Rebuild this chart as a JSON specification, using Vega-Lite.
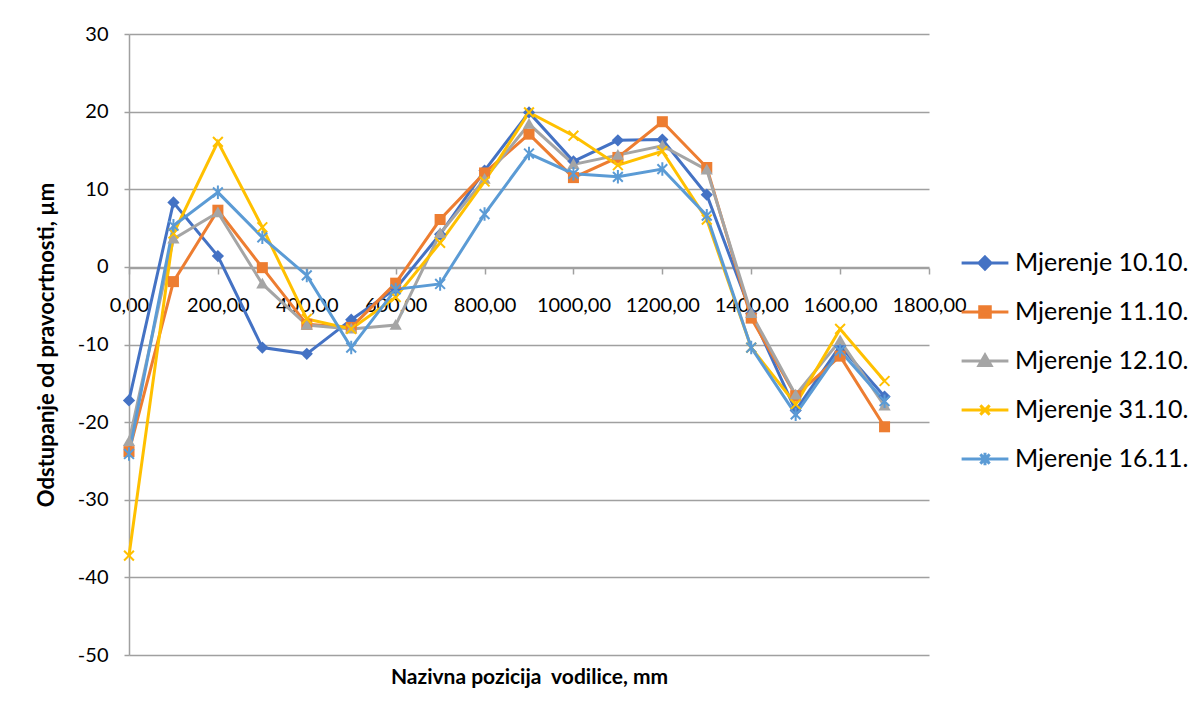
{
  "$schema": "https://vega.github.io/schema/vega-lite/v6.json",
  "width": 800,
  "height": 621,
  "autosize": {"type": "none"},
  "padding": {"left": 129, "top": 34, "right": 272, "bottom": 47},
  "background": "white",
  "config": {"view": {"stroke": null}, "font": "Lato"},
  "data": {
    "values": [
      {"x": 0, "v": -17.2, "s": "Mjerenje 10.10."}, {"x": 100, "v": 8.3, "s": "Mjerenje 10.10."}, {"x": 200, "v": 1.4, "s": "Mjerenje 10.10."}, {"x": 300, "v": -10.4, "s": "Mjerenje 10.10."}, {"x": 400, "v": -11.2, "s": "Mjerenje 10.10."}, {"x": 500, "v": -6.8, "s": "Mjerenje 10.10."}, {"x": 600, "v": -2.8, "s": "Mjerenje 10.10."}, {"x": 700, "v": 4.2, "s": "Mjerenje 10.10."}, {"x": 800, "v": 12.4, "s": "Mjerenje 10.10."}, {"x": 900, "v": 19.9, "s": "Mjerenje 10.10."}, {"x": 1000, "v": 13.6, "s": "Mjerenje 10.10."}, {"x": 1100, "v": 16.3, "s": "Mjerenje 10.10."}, {"x": 1200, "v": 16.4, "s": "Mjerenje 10.10."}, {"x": 1300, "v": 9.3, "s": "Mjerenje 10.10."}, {"x": 1400, "v": -6.0, "s": "Mjerenje 10.10."}, {"x": 1500, "v": -18.5, "s": "Mjerenje 10.10."}, {"x": 1600, "v": -10.2, "s": "Mjerenje 10.10."}, {"x": 1700, "v": -16.7, "s": "Mjerenje 10.10."},
      {"x": 0, "v": -23.8, "s": "Mjerenje 11.10."}, {"x": 100, "v": -1.9, "s": "Mjerenje 11.10."}, {"x": 200, "v": 7.3, "s": "Mjerenje 11.10."}, {"x": 300, "v": -0.1, "s": "Mjerenje 11.10."}, {"x": 400, "v": -7.4, "s": "Mjerenje 11.10."}, {"x": 500, "v": -7.8, "s": "Mjerenje 11.10."}, {"x": 600, "v": -2.1, "s": "Mjerenje 11.10."}, {"x": 700, "v": 6.1, "s": "Mjerenje 11.10."}, {"x": 800, "v": 12.1, "s": "Mjerenje 11.10."}, {"x": 900, "v": 17.1, "s": "Mjerenje 11.10."}, {"x": 1000, "v": 11.5, "s": "Mjerenje 11.10."}, {"x": 1100, "v": 14.1, "s": "Mjerenje 11.10."}, {"x": 1200, "v": 18.7, "s": "Mjerenje 11.10."}, {"x": 1300, "v": 12.8, "s": "Mjerenje 11.10."}, {"x": 1400, "v": -6.6, "s": "Mjerenje 11.10."}, {"x": 1500, "v": -16.6, "s": "Mjerenje 11.10."}, {"x": 1600, "v": -11.5, "s": "Mjerenje 11.10."}, {"x": 1700, "v": -20.6, "s": "Mjerenje 11.10."},
      {"x": 0, "v": -22.5, "s": "Mjerenje 12.10."}, {"x": 100, "v": 3.6, "s": "Mjerenje 12.10."}, {"x": 200, "v": 7.0, "s": "Mjerenje 12.10."}, {"x": 300, "v": -2.2, "s": "Mjerenje 12.10."}, {"x": 400, "v": -7.5, "s": "Mjerenje 12.10."}, {"x": 500, "v": -8.0, "s": "Mjerenje 12.10."}, {"x": 600, "v": -7.5, "s": "Mjerenje 12.10."}, {"x": 700, "v": 4.3, "s": "Mjerenje 12.10."}, {"x": 800, "v": 11.3, "s": "Mjerenje 12.10."}, {"x": 900, "v": 18.4, "s": "Mjerenje 12.10."}, {"x": 1000, "v": 13.2, "s": "Mjerenje 12.10."}, {"x": 1100, "v": 14.4, "s": "Mjerenje 12.10."}, {"x": 1200, "v": 15.6, "s": "Mjerenje 12.10."}, {"x": 1300, "v": 12.5, "s": "Mjerenje 12.10."}, {"x": 1400, "v": -6.0, "s": "Mjerenje 12.10."}, {"x": 1500, "v": -16.5, "s": "Mjerenje 12.10."}, {"x": 1600, "v": -9.5, "s": "Mjerenje 12.10."}, {"x": 1700, "v": -17.9, "s": "Mjerenje 12.10."},
      {"x": 0, "v": -37.2, "s": "Mjerenje 31.10."}, {"x": 100, "v": 4.3, "s": "Mjerenje 31.10."}, {"x": 200, "v": 16.1, "s": "Mjerenje 31.10."}, {"x": 300, "v": 5.1, "s": "Mjerenje 31.10."}, {"x": 400, "v": -6.7, "s": "Mjerenje 31.10."}, {"x": 500, "v": -8.0, "s": "Mjerenje 31.10."}, {"x": 600, "v": -3.9, "s": "Mjerenje 31.10."}, {"x": 700, "v": 3.1, "s": "Mjerenje 31.10."}, {"x": 800, "v": 11.0, "s": "Mjerenje 31.10."}, {"x": 900, "v": 19.9, "s": "Mjerenje 31.10."}, {"x": 1000, "v": 16.9, "s": "Mjerenje 31.10."}, {"x": 1100, "v": 13.1, "s": "Mjerenje 31.10."}, {"x": 1200, "v": 14.9, "s": "Mjerenje 31.10."}, {"x": 1300, "v": 6.1, "s": "Mjerenje 31.10."}, {"x": 1400, "v": -10.4, "s": "Mjerenje 31.10."}, {"x": 1500, "v": -17.7, "s": "Mjerenje 31.10."}, {"x": 1600, "v": -8.0, "s": "Mjerenje 31.10."}, {"x": 1700, "v": -14.7, "s": "Mjerenje 31.10."},
      {"x": 0, "v": -24.1, "s": "Mjerenje 16.11."}, {"x": 100, "v": 5.3, "s": "Mjerenje 16.11."}, {"x": 200, "v": 9.6, "s": "Mjerenje 16.11."}, {"x": 300, "v": 3.8, "s": "Mjerenje 16.11."}, {"x": 400, "v": -1.1, "s": "Mjerenje 16.11."}, {"x": 500, "v": -10.4, "s": "Mjerenje 16.11."}, {"x": 600, "v": -2.9, "s": "Mjerenje 16.11."}, {"x": 700, "v": -2.2, "s": "Mjerenje 16.11."}, {"x": 800, "v": 6.8, "s": "Mjerenje 16.11."}, {"x": 900, "v": 14.6, "s": "Mjerenje 16.11."}, {"x": 1000, "v": 12.0, "s": "Mjerenje 16.11."}, {"x": 1100, "v": 11.6, "s": "Mjerenje 16.11."}, {"x": 1200, "v": 12.6, "s": "Mjerenje 16.11."}, {"x": 1300, "v": 6.6, "s": "Mjerenje 16.11."}, {"x": 1400, "v": -10.4, "s": "Mjerenje 16.11."}, {"x": 1500, "v": -19.0, "s": "Mjerenje 16.11."}, {"x": 1600, "v": -10.8, "s": "Mjerenje 16.11."}, {"x": 1700, "v": -17.3, "s": "Mjerenje 16.11."}
    ]
  },
  "encoding": {
    "x": {
      "field": "x", "type": "quantitative",
      "scale": {"domain": [0, 1800], "nice": false, "zero": false},
      "axis": {
        "values": [0, 200, 400, 600, 800, 1000, 1200, 1400, 1600, 1800],
        "offset": -387,
        "grid": false,
        "domainColor": "#A0A0A0", "domainWidth": 1.5,
        "tickColor": "#A0A0A0", "tickSize": 6, "tickWidth": 1.5,
        "labelExpr": "replace(format(datum.value, '.2f'), '.', ',')",
        "labelFont": "Lato", "labelFontSize": 20, "labelColor": "#000000",
        "labelPadding": 21, "labelFlush": false, "labelOverlap": false,
        "title": "Nazivna pozicija\u00a0 vodilice, mm",
        "titleFont": "Lato", "titleFontSize": 21, "titleFontWeight": "bold", "titleColor": "#000000",
        "titlePadding": 351
      }
    },
    "y": {
      "field": "v", "type": "quantitative",
      "scale": {"domain": [-50, 30], "nice": false, "zero": false},
      "axis": {
        "values": [-50, -40, -30, -20, -10, 0, 10, 20, 30],
        "grid": true, "gridColor": "#A0A0A0", "gridWidth": 1.5,
        "domainColor": "#A0A0A0", "domainWidth": 1.5,
        "tickColor": "#A0A0A0", "tickSize": 5, "tickWidth": 1.5,
        "labelExpr": "'' + datum.value",
        "labelFont": "Lato", "labelFontSize": 20, "labelColor": "#000000", "labelPadding": 16,
        "title": "Odstupanje od pravocrtnosti, µm",
        "titleFont": "Lato", "titleFontSize": 22, "titleFontWeight": "bold", "titleColor": "#000000",
        "titlePadding": 19
      }
    },
    "color": {
      "field": "s", "type": "nominal",
      "scale": {
        "domain": ["Mjerenje 10.10.", "Mjerenje 11.10.", "Mjerenje 12.10.", "Mjerenje 31.10.", "Mjerenje 16.11."],
        "range": ["#4472C4", "#ED7D31", "#A5A5A5", "#FFC000", "#5B9BD5"]
      },
      "legend": {
        "orient": "none", "legendX": 835, "legendY": 208,
        "title": null, "padding": 0,
        "symbolSize": 1521, "symbolStrokeWidth": 3,
        "labelFont": "Lato", "labelFontSize": 25, "labelColor": "#000000", "labelOffset": 9,
        "labelLimit": 400,
        "rowPadding": 15,
        "encode": {
          "symbols": {
            "update": {
              "shape": {"signal": "datum.value === 'Mjerenje 10.10.' ? 'M-1.2,0L1.2,0M0,-0.31L0.31,0L0,0.31L-0.31,0Z' : datum.value === 'Mjerenje 11.10.' ? 'M-1.2,0L1.2,0M-0.27,-0.27L0.27,-0.27L0.27,0.27L-0.27,0.27Z' : datum.value === 'Mjerenje 12.10.' ? 'M-1.2,0L1.2,0M0,-0.31L0.31,0.23L-0.31,0.23Z' : datum.value === 'Mjerenje 31.10.' ? 'M-1.2,0L1.2,0M-0.24,-0.24L0.24,0.24M-0.24,0.24L0.24,-0.24' : 'M-1.2,0L1.2,0M-0.24,-0.24L0.24,0.24M-0.24,0.24L0.24,-0.24M0,-0.32L0,0.32'"},
              "fill": {"scale": "color", "field": "value"},
              "stroke": {"scale": "color", "field": "value"},
              "strokeWidth": {"value": 3},
              "opacity": {"value": 1},
              "fillOpacity": {"value": 1},
              "strokeOpacity": {"value": 1}
            }
          }
        }
      }
    }
  },
  "layer": [
    {"mark": {"type": "line", "strokeWidth": 3}},
    {
      "transform": [{"filter": {"field": "s", "equal": "Mjerenje 10.10."}}],
      "mark": {"type": "point", "filled": true, "size": 150, "opacity": 1, "shape": "M0,-1L1,0L0,1L-1,0Z"}
    },
    {
      "transform": [{"filter": {"field": "s", "equal": "Mjerenje 11.10."}}],
      "mark": {"type": "point", "filled": true, "size": 150, "opacity": 1, "shape": "M-0.9,-0.9L0.9,-0.9L0.9,0.9L-0.9,0.9Z"}
    },
    {
      "transform": [{"filter": {"field": "s", "equal": "Mjerenje 12.10."}}],
      "mark": {"type": "point", "filled": true, "size": 150, "opacity": 1, "shape": "M0,-1L1,0.75L-1,0.75Z"}
    },
    {
      "transform": [{"filter": {"field": "s", "equal": "Mjerenje 31.10."}}],
      "mark": {"type": "point", "filled": false, "size": 150, "strokeWidth": 2, "opacity": 1, "shape": "M-0.8,-0.8L0.8,0.8M-0.8,0.8L0.8,-0.8"}
    },
    {
      "transform": [{"filter": {"field": "s", "equal": "Mjerenje 16.11."}}],
      "mark": {"type": "point", "filled": false, "size": 150, "strokeWidth": 2, "opacity": 1, "shape": "M-0.8,-0.8L0.8,0.8M-0.8,0.8L0.8,-0.8M0,-1.1L0,1.1"}
    }
  ]
}
